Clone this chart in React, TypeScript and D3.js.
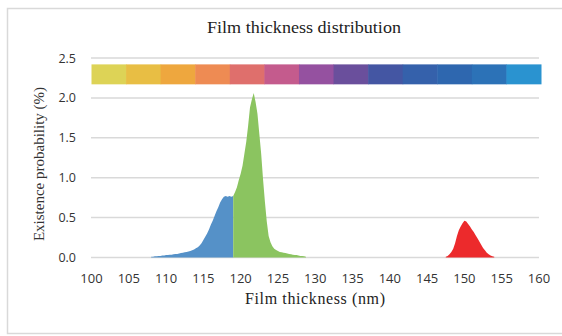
import React from "react";
import * as d3 from "d3";

const W = 562;
const H = 336;

// Histogram data (thickness in nm, probability in %)
const blueX = [108.0,108.25,108.5,108.75,109.0,109.25,109.5,109.75,110.0,110.25,110.5,110.75,111.0,111.25,111.5,111.75,112.0,112.25,112.5,112.75,113.0,113.25,113.5,113.75,114.0,114.25,114.5,114.75,115.0,115.25,115.5,115.75,116.0,116.25,116.5,116.75,117.0,117.25,117.5,117.75,118.0,118.25,118.5,118.75,119.0];
const blueY = [0.01,0.01,0.015,0.015,0.02,0.02,0.025,0.025,0.03,0.03,0.035,0.035,0.04,0.045,0.045,0.05,0.055,0.06,0.065,0.07,0.075,0.08,0.09,0.10,0.115,0.13,0.15,0.18,0.22,0.26,0.30,0.35,0.41,0.46,0.52,0.58,0.63,0.69,0.73,0.76,0.77,0.76,0.77,0.76,0.77];

const greenX = [119.0,119.25,119.5,119.75,120.0,120.25,120.5,120.75,121.0,121.25,121.5,121.75,122.0,122.25,122.5,122.75,123.0,123.25,123.5,123.75,124.0,124.25,124.5,124.75,125.0,125.25,125.5,125.75,126.0,126.25,126.5,126.75,127.0,127.25,127.5,127.75,128.0,128.25,128.5,128.75];
const greenY = [0.77,0.82,0.88,0.97,1.05,1.15,1.30,1.45,1.65,1.88,1.98,2.06,1.95,1.80,1.55,1.30,0.98,0.70,0.45,0.27,0.19,0.14,0.11,0.095,0.08,0.07,0.065,0.06,0.055,0.05,0.045,0.04,0.035,0.03,0.03,0.025,0.02,0.02,0.015,0.01];

const redX = [147.5,147.75,148.0,148.25,148.5,148.75,149.0,149.25,149.5,149.75,150.0,150.25,150.5,150.75,151.0,151.25,151.5,151.75,152.0,152.25,152.5,152.75,153.0,153.25,153.5,153.75,154.0];
const redY = [0.01,0.02,0.04,0.07,0.11,0.18,0.27,0.34,0.39,0.43,0.46,0.45,0.42,0.39,0.35,0.32,0.28,0.24,0.20,0.16,0.12,0.09,0.06,0.04,0.025,0.015,0.01];

const xTicks = [100,105,110,115,120,125,130,135,140,145,150,155,160];
const yTicks = [0.0,0.5,1.0,1.5,2.0,2.5];

const bandColors = ["#DDD356","#E8BE44","#EEA73E","#EE8B53","#DF6F6C","#C45B8D","#9551A0","#6A4F9C","#4456A3","#3561AB","#2E67AF","#2C72B7","#2A93D0"];
const bandTop = 2.42;
const bandBottom = 2.17;

const seriesColors = { blue: "#5591C8", green: "#8BC460", red: "#EC2A2C" };

export default function App() {
  const x = d3.scaleLinear().domain([100, 160]).range([91.5, 539]);
  const y = d3.scaleLinear().domain([0, 2.5]).range([257.5, 58]);

  const area = d3
    .area<[number, number]>()
    .x((d) => x(d[0]))
    .y0(y(0))
    .y1((d) => y(d[1]))
    .curve(d3.curveLinear);

  const zip = (xs: number[], ys: number[]) => xs.map((v, i) => [v, ys[i]] as [number, number]);

  const bandX0 = 91.5;
  const bandX1 = 541;
  const bandW = (bandX1 - bandX0) / bandColors.length;

  const tickFont = "'Open Sans', 'Liberation Sans', sans-serif";
  const serif = "'Liberation Serif', 'DejaVu Serif', serif";

  return (
    <svg width={W} height={H} style={{ position: "absolute", left: 0, top: 0, background: "#fff" }}>
      <rect x={7.5} y={8.5} width={560} height={325} fill="#fff" stroke="#D9D9D9" strokeWidth={1.5} />
      <text x={304} y={33} textAnchor="middle" fontFamily={serif} fontSize={17} fill="#222" textLength={194} lengthAdjust="spacingAndGlyphs">
        Film thickness distribution
      </text>
      {yTicks.map((t) => (
        <g key={t}>
          <line x1={91} x2={539} y1={y(t)} y2={y(t)} stroke="#D9D9D9" strokeWidth={1.5} />
          <text x={76} y={y(t) + 4.5} textAnchor="end" fontFamily={tickFont} fontSize={12.5} fill="#333">
            {t.toFixed(1)}
          </text>
        </g>
      ))}
      {bandColors.map((c, i) => (
        <rect key={i} x={bandX0 + i * bandW} y={y(bandTop)} width={bandW + 0.5} height={y(bandBottom) - y(bandTop)} fill={c} />
      ))}
      <path d={area(zip(blueX, blueY)) || ""} fill={seriesColors.blue} />
      <path d={area(zip(greenX, greenY)) || ""} fill={seriesColors.green} />
      <path d={area(zip(redX, redY)) || ""} fill={seriesColors.red} />
      {xTicks.map((t) => (
        <text key={t} x={x(t)} y={283} textAnchor="middle" fontFamily={tickFont} fontSize={13} fill="#333">
          {t}
        </text>
      ))}
      <text x={315} y={304} textAnchor="middle" fontFamily={serif} fontSize={16} fill="#222" textLength={140} lengthAdjust="spacing">
        Film thickness (nm)
      </text>
      <text transform="translate(44,164) rotate(-90)" textAnchor="middle" fontFamily={serif} fontSize={15} fill="#333">
        Existence probability (%)
      </text>
    </svg>
  );
}
